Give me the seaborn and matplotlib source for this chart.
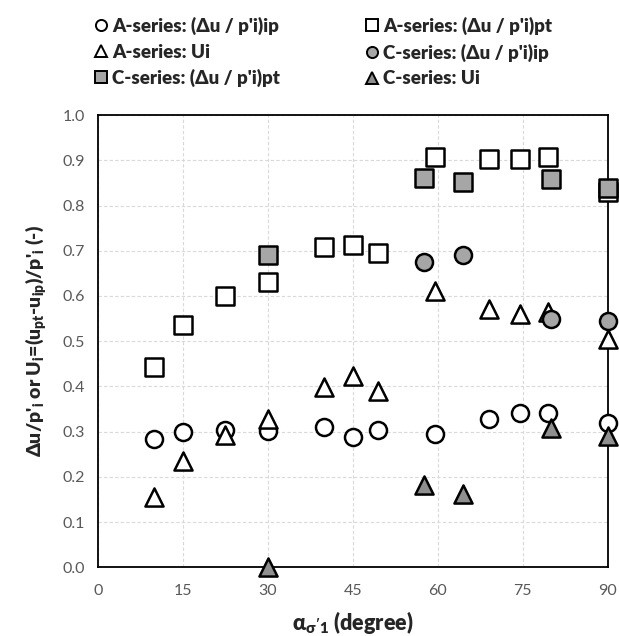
import matplotlib
matplotlib.use("Agg")
import matplotlib.pyplot as plt
import seaborn as sns
import pandas as pd
from matplotlib.lines import Line2D

# ---- data ----
a_ip_x = [10, 15, 22.5, 30, 40, 45, 49.5, 59.5, 69, 74.5, 79.5, 90]
a_ip_y = [0.284, 0.299, 0.304, 0.302, 0.310, 0.288, 0.304, 0.295, 0.328, 0.341, 0.341, 0.320]

a_pt_x = [10, 15, 22.5, 30, 40, 45, 49.5, 59.5, 69, 74.5, 79.5, 90]
a_pt_y = [0.443, 0.536, 0.599, 0.630, 0.708, 0.713, 0.696, 0.908, 0.904, 0.904, 0.908, 0.830]

a_ui_x = [10, 15, 22.5, 30, 40, 45, 49.5, 59.5, 69, 74.5, 79.5, 90]
a_ui_y = [0.156, 0.234, 0.293, 0.327, 0.398, 0.423, 0.391, 0.610, 0.571, 0.560, 0.565, 0.505]

c_ip_x = [57.5, 64.5, 80, 90]
c_ip_y = [0.676, 0.690, 0.549, 0.545]

c_pt_x = [30, 57.5, 64.5, 80, 90]
c_pt_y = [0.691, 0.862, 0.853, 0.858, 0.839]

c_ui_x = [30, 57.5, 64.5, 80, 90]
c_ui_y = [0.000, 0.182, 0.162, 0.307, 0.291]

labels = ["A-series: (\u0394u / p'i)ip", "A-series: (\u0394u / p'i)pt", "A-series: Ui",
          "C-series: (\u0394u / p'i)ip", "C-series: (\u0394u / p'i)pt", "C-series: Ui"]
x_ticks = [0, 15, 30, 45, 60, 75, 90]
y_ticks = [0.0, 0.1, 0.2, 0.3, 0.4, 0.5, 0.6, 0.7, 0.8, 0.9, 1.0]

sns.set_style("white")
plt.rcParams['font.family'] = ['Lato', 'DejaVu Sans']
plt.rcParams['mathtext.default'] = 'regular'

fig = plt.figure(figsize=(6.19, 6.36), dpi=100)
ax = fig.add_axes([0.158, 0.108, 0.824, 0.711])

series = [
    (a_ip_x, a_ip_y, 'o', 'white', labels[0]),
    (a_pt_x, a_pt_y, 's', 'white', labels[1]),
    (a_ui_x, a_ui_y, '^', 'white', labels[2]),
    (c_ip_x, c_ip_y, 'o', '#A6A6A6', labels[3]),
    (c_pt_x, c_pt_y, 's', '#A6A6A6', labels[4]),
    (c_ui_x, c_ui_y, '^', '#8F8F8F', labels[5]),
]
handles = []
for i, (xs, ys, m, fc, lab) in enumerate(series):
    df = pd.DataFrame({'x': xs, 'y': ys})
    sns.scatterplot(data=df, x='x', y='y', ax=ax, marker=m, s=150 if m != '^' else 170,
                    color=fc, edgecolor='black', linewidth=1.8, clip_on=False,
                    zorder=3 + i, legend=False)
    handles.append(Line2D([], [], marker=m, linestyle='none', markersize=8,
                          markerfacecolor=fc, markeredgecolor='black',
                          markeredgewidth=1.4, label=lab))

ax.set_xlim(0, 90)
ax.set_ylim(0, 1.0)
ax.set_xticks(x_ticks)
ax.set_yticks(y_ticks)
ax.set_yticklabels([f"{v:.1f}" for v in y_ticks])
ax.grid(True, color='#D9D9D9', linestyle=(0, (3, 2)), linewidth=0.8)
ax.set_axisbelow(True)
for sp in ax.spines.values():
    sp.set_color('black')
    sp.set_linewidth(1.3)
ax.tick_params(axis='both', direction='in', length=4, width=1.0, color='black',
               labelsize=11.5, labelcolor='#595959')
ax.tick_params(axis='x', pad=12)
ax.tick_params(axis='y', pad=9)

ax.set_xlabel("\u03b1$_{\u03c3'1}$ (degree)", fontsize=15.5, fontweight='heavy', labelpad=8)
ax.set_ylabel("\u0394u/p'$_{i}$ or U$_{i}$=(u$_{pt}$-u$_{ip}$)/p'$_{i}$ (-)",
              fontsize=14, fontweight='heavy', labelpad=11)

order = [0, 2, 4, 1, 3, 5]
fig.legend([handles[k] for k in order], [labels[k] for k in order], ncol=2,
           loc='upper left', bbox_to_anchor=(0.12, 1.0), frameon=False,
           prop={'size': 13.5, 'weight': 'heavy'}, handletextpad=0.1,
           columnspacing=4.4, labelspacing=0.45, handlelength=1.0)

fig.savefig("out.png", dpi=100)
